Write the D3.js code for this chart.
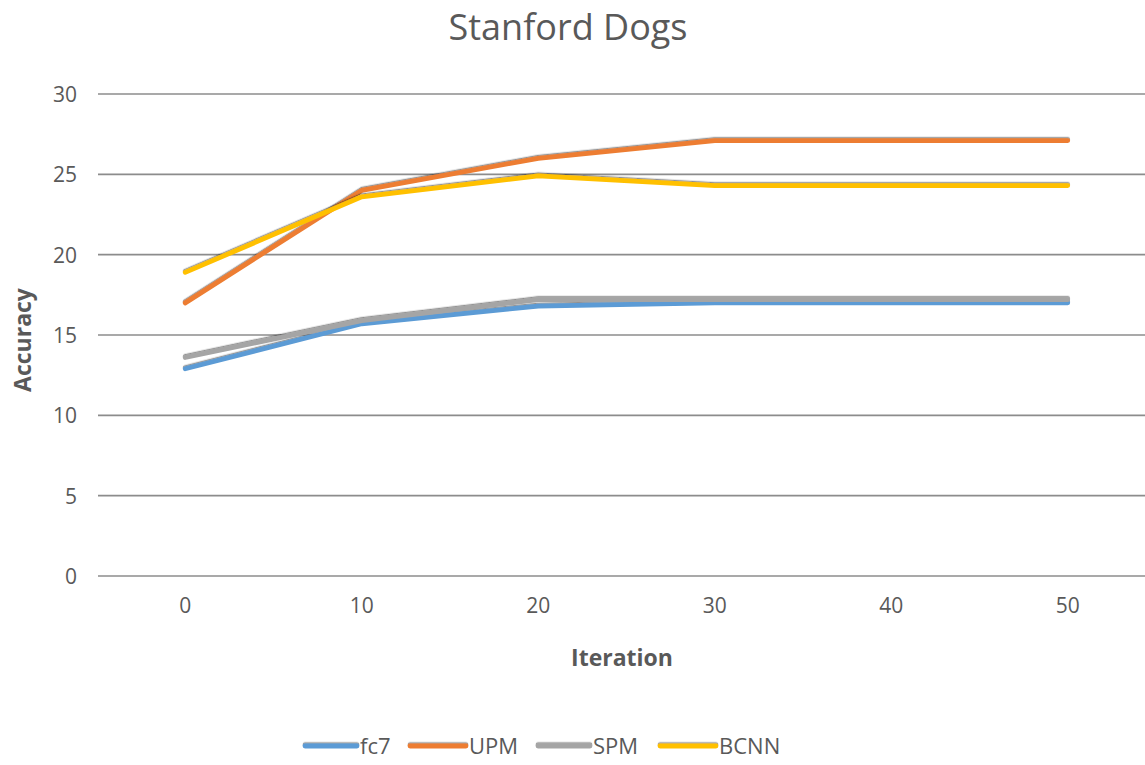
<!DOCTYPE html>
<html><head><meta charset="utf-8">
<script src="https://cdnjs.cloudflare.com/ajax/libs/d3/7.8.5/d3.min.js"></script>
<style>body{margin:0;background:#fff}svg{display:block}text{font-family:"Open Sans",Lato,sans-serif;fill:#595959}</style>
</head><body><svg id="c" width="1145" height="765"></svg>
<script>
const categories = ["0","10","20","30","40","50"];
const seriesNames = ["fc7","UPM","SPM","BCNN"];
const fc7  = [12.9, 15.7, 16.8, 17.0, 17.0, 17.0];
const upm  = [17.0, 24.0, 26.0, 27.1, 27.1, 27.1];
const spm  = [13.6, 15.9, 17.2, 17.2, 17.2, 17.2];
const bcnn = [18.9, 23.6, 24.9, 24.3, 24.3, 24.3];
const yTicks = [0,5,10,15,20,25,30];
const colors = ["#5B9BD5","#ED7D31","#A5A5A5","#FFC000"];
const seriesValues = [fc7, upm, spm, bcnn];

const svg = d3.select("#c");
const defs = svg.append("defs");
const f = defs.append("filter").attr("id","sh").attr("filterUnits","userSpaceOnUse")
  .attr("x",-1000).attr("y",-1000).attr("width",3000).attr("height",3000);
f.append("feDropShadow").attr("dx",0).attr("dy",-1.2).attr("stdDeviation",0.4).attr("flood-color","#222").attr("flood-opacity",0.5);

const x = d3.scaleBand().domain(categories).range([97, 1156]);
const y = d3.scaleLinear().domain([0,30]).range([576, 94]);

svg.append("g").selectAll("line").data(yTicks).join("line")
  .attr("x1",98).attr("x2",1145).attr("y1",d=>y(d)).attr("y2",d=>y(d))
  .attr("stroke","#8c8c8c").attr("stroke-width",1.6);

const ya = svg.append("g").attr("transform","translate(77,0)")
  .call(d3.axisLeft(y).tickValues(yTicks).tickSize(0).tickPadding(0));
ya.select(".domain").remove();
ya.selectAll("text").style("font-size","21px").attr("fill","#595959").attr("dy","0.35em");

const xa = svg.append("g").attr("transform","translate(0,598)")
  .call(d3.axisBottom(x).tickSize(0).tickPadding(0));
xa.select(".domain").remove();
xa.selectAll("text").style("font-size","21px").attr("fill","#595959").attr("dy","0.71em");

const line = d3.line().x((d,i)=>x(categories[i])+x.bandwidth()/2).y(d=>y(d));
svg.append("g").selectAll("path").data(seriesValues).join("path")
  .attr("d",d=>line(d)).attr("fill","none")
  .attr("stroke",(d,i)=>colors[i]).attr("stroke-width",4.8)
  .attr("stroke-linecap","round").attr("stroke-linejoin","round")
  .attr("filter","url(#sh)");

svg.append("text").attr("x",568).attr("y",40).attr("text-anchor","middle")
  .style("font-size","36px").text("Stanford Dogs");
svg.append("text").attr("transform","translate(31,340) rotate(-90)").attr("text-anchor","middle")
  .style("font-size","23px").style("font-weight","bold").text("Accuracy");
svg.append("text").attr("x",622).attr("y",666).attr("text-anchor","middle")
  .style("font-size","23px").style("font-weight","bold").text("Iteration");

const legX = [305, 410, 538, 660];
const legW = [52, 56, 52, 56];
const lg = svg.append("g").selectAll("g").data(seriesNames).join("g")
  .attr("transform",(d,i)=>`translate(${legX[i]},746)`);
lg.append("line").attr("x1",0).attr("x2",(d,i)=>legW[i]).attr("y1",0).attr("y2",0)
  .attr("stroke",(d,i)=>colors[i]).attr("stroke-width",4.8).attr("stroke-linecap","round").attr("filter","url(#sh)");
lg.append("text").attr("x",(d,i)=>legW[i]+3).attr("y",0).attr("dy","0.35em")
  .style("font-size","22px").text(d=>d);
</script></body></html>
